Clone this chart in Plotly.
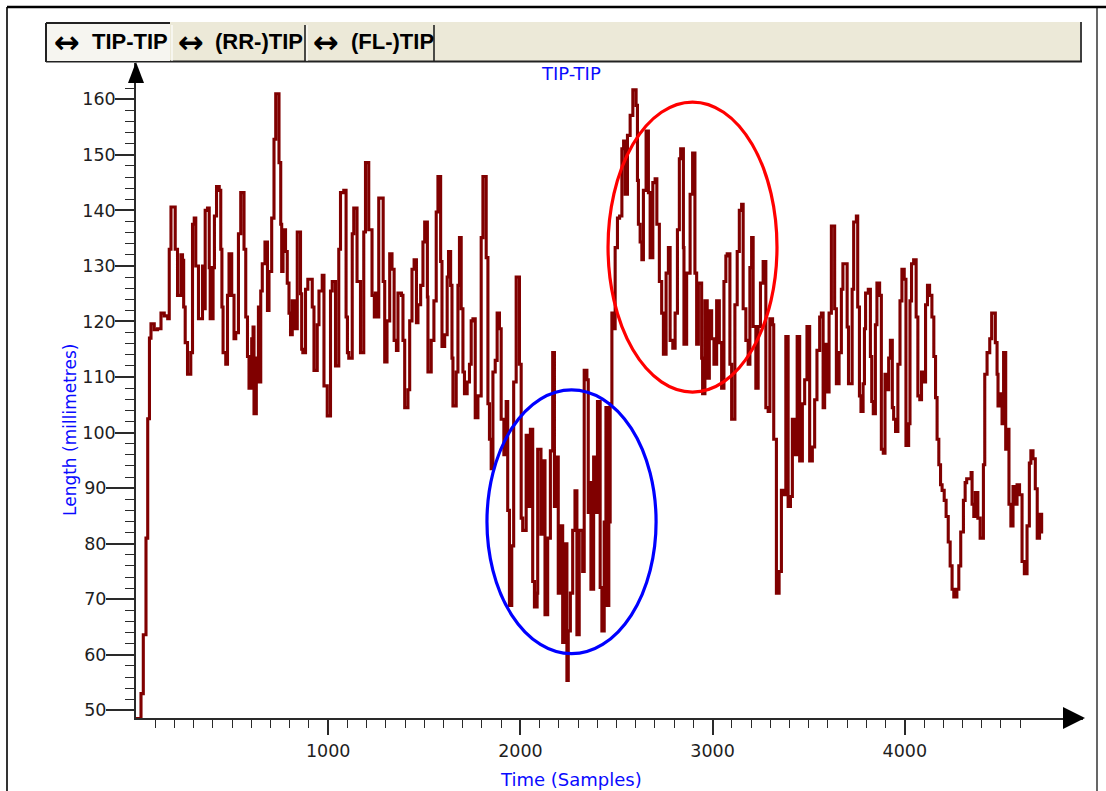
import plotly.graph_objects as go

# ---- data: TIP-TIP length trace ----
time_samples = [
    0, 26, 38, 52, 61, 70, 78, 95, 112, 130, 147, 165, 173, 182, 204, 216, 234, 242, 248, 256,
    268, 285, 294, 303, 311, 325, 346, 355, 360, 372, 381, 386, 401, 408, 419, 433, 441, 447, 453, 467,
    476, 484, 498, 510, 519, 533, 545, 562, 571, 580, 588, 602, 609, 614, 626, 637, 640, 649, 657, 671,
    684, 692, 706, 718, 727, 744, 753, 758, 765, 778, 787, 796, 804, 813, 827, 839, 856, 862, 868, 882,
    894, 917, 926, 943, 952, 969, 978, 995, 1012, 1021, 1038, 1055, 1064, 1081, 1093, 1100, 1107, 1125, 1133, 1150,
    1168, 1185, 1194, 1211, 1228, 1240,
    1245, 1255, 1263, 1286, 1294, 1306, 1320, 1332, 1343, 1355, 1363, 1381, 1389, 1398, 1415, 1424, 1436, 1447, 1459, 1467,
    1481, 1493, 1502, 1516, 1519, 1536, 1550, 1562, 1571, 1585, 1592, 1606, 1619, 1626, 1637, 1644, 1649, 1666, 1675, 1683,
    1692, 1701, 1709, 1723, 1735, 1744, 1753, 1765, 1779, 1796, 1805, 1822, 1831, 1839, 1848, 1857, 1869, 1879, 1891, 1900,
    1914, 1926, 1934, 1943, 1955, 1965, 1978, 1995, 2004, 2012, 2030, 2038, 2052, 2064, 2073, 2087, 2090, 2107, 2121, 2128,
    2142, 2156, 2168, 2177, 2187, 2197, 2208, 2220, 2228, 2242, 2249, 2260, 2272, 2284, 2294, 2306, 2324, 2332, 2346, 2353,
    2363, 2367, 2381, 2393, 2401, 2415, 2424, 2436, 2445, 2452, 2460, 2467, 2476,
    2488, 2493, 2505, 2516, 2528, 2537, 2545, 2557, 2571, 2585, 2602, 2609, 2614, 2623, 2632, 2640, 2654, 2666, 2675, 2689,
    2701, 2710, 2723, 2735, 2744, 2758, 2770, 2779, 2793, 2805, 2817, 2827, 2834, 2848, 2851, 2865, 2883, 2896, 2908, 2917,
    2926, 2943, 2948, 2960, 2972, 2983, 2995, 3007, 3021, 3035, 3047, 3059, 3069, 3076, 3090, 3099, 3116, 3128, 3139, 3151,
    3159, 3173, 3185, 3194, 3203, 3211, 3225, 3237, 3249, 3263, 3277, 3289, 3298, 3312, 3318, 3332, 3346, 3358, 3370, 3381,
    3393, 3405, 3415, 3427, 3440, 3453, 3467, 3479, 3491, 3505, 3519, 3531, 3543, 3557, 3566, 3575, 3583, 3592, 3606, 3618,
    3635, 3644, 3658, 3670, 3678,
    3700, 3707, 3726, 3734, 3748, 3755, 3764, 3772, 3783, 3790, 3796, 3810, 3821, 3828, 3836, 3847, 3855, 3869, 3878, 3888,
    3897, 3907, 3916, 3925, 3935, 3942, 3952, 3964, 3975, 3985, 3997, 4006, 4020, 4027, 4035, 4046, 4059, 4068, 4078, 4087,
    4098, 4108, 4118, 4129, 4141, 4151, 4160, 4168, 4177, 4186, 4194, 4205, 4215, 4226, 4236, 4246, 4255, 4271, 4281, 4291,
    4305, 4314, 4322, 4345, 4350, 4359, 4367, 4380, 4392, 4409, 4416, 4428, 4442, 4452, 4471, 4480, 4485, 4497, 4506, 4514,
    4525, 4533, 4542, 4552, 4563, 4575, 4584, 4597, 4610, 4622, 4636, 4648, 4656, 4667, 4679, 4689, 4701, 4712, 4720,
]

length_mm = [
    48.5, 53, 63.6, 81, 102.5, 117, 119.6, 118.5, 118.7, 121.5, 121, 120.5, 133, 140.6, 133, 124.7, 132, 131, 122.6, 116.2,
    110.5, 114.4, 137.5, 138.6, 130, 120.5, 130, 122.3, 140, 140.4, 129.7, 120.5, 129.7, 139, 144.3, 143.6, 133, 122.6, 114.4, 112.3,
    124.7, 132.2, 124.7, 116.9, 118, 135.8, 143.2, 133, 120.8, 113.7, 108, 116.9, 119, 103.4, 113.4, 122.6, 109.1, 125.5, 130.4, 134.3,
    122, 129, 138.6, 152.8, 161, 148.6, 137.5, 129, 136.5, 132.6, 126.9, 121.5, 117.6, 123.7, 118.7, 136.1, 125, 115, 114.4, 125.8,
    127.6, 122.6, 111.2, 119.4, 125.5, 128.3, 108.4, 103, 125.5, 127.2, 112, 133, 143.2, 143.6, 120.8, 114.4, 113.4, 135.8, 140.4, 127.2,
    114.4, 136.1, 148.6, 136.5, 124.7, 120.8,
    125.1, 120.8, 142.2, 127.2, 112.7, 120.1, 132.2, 129.4, 116.6, 114.8, 125.1, 124.7, 116.6, 104.5, 107.7, 120.1, 129.4, 131.1, 119.8, 123,
    126.5, 134.3, 137.9, 124.4, 110.9, 116.6, 123.7, 139.7, 146.1, 130.8, 115.5, 117.6, 128, 132.6, 126.5, 113.4, 104.8, 110.9, 126.5, 135.1,
    122.3, 110.9, 107, 109.1, 112.3, 120.1, 120.5, 102.7, 106.6, 135.1, 146.1, 131.5, 105.2, 98.8, 93.5, 110.9, 113, 121.5, 118.7, 102.4,
    96, 105.6, 86, 68.9, 79.6, 109.1, 128, 112.3, 84.6, 82.4, 99.5, 86.7, 100.6, 73.2, 68.6, 71.1, 97, 81.7, 94.9, 67.2,
    81, 96.7, 114.4, 86.7, 95.6, 71.1, 83.2, 62.2, 80, 55.4, 64.3, 71.1, 82.4, 89.5, 63.6, 82.4, 75, 111.2, 109.5, 85.6,
    91, 71.8, 95.6, 85.6, 105.6, 72.1, 64.3, 83.9, 104.5, 68.9, 83.9, 105.2, 121.5,
    118.7, 133.3, 138.6, 139, 151.1, 152.5, 142.9, 153.5, 157.1, 161.7, 158.9, 145.4, 137.5, 134.3, 131.1, 143.6, 154.3, 143.2, 131.5, 145,
    145.7, 137.5, 127.2, 121.5, 114.1, 128.7, 133.3, 116.6, 115.2, 121.5, 136.5, 149.3, 151.1, 133.3, 115.9, 128.7, 142.9, 150.3, 128.7, 115.9,
    126.9, 113.4, 107, 123.7, 109.8, 121.9, 116.9, 112.3, 123.7, 116.2, 108, 127.2, 131.8, 132.2, 112.3, 102.4, 123, 132.6, 140, 141.1,
    122.3, 116.6, 112.3, 129.7, 135.1, 119.1, 108, 119.1, 126.9, 130.8, 104.5, 103.8, 120.5, 119.4, 98.8, 71.1, 75, 89.6, 88.8, 117.3,
    86.7, 88.5, 102.4, 96, 117.3, 94.9, 105.2, 109.5, 119.1, 94.9, 97.4, 105.9, 114.8, 120.8, 121.5, 104.5, 115.9, 107.3, 121.5, 137.2,
    122.3, 108.8, 114.4, 125.8, 130.4,
    119, 108.8, 125.8, 137.9, 139, 122.6, 106.6, 103.8, 108.8, 118.7, 125.1, 125.8, 113.7, 105.6, 103.4, 119.4, 126.9, 124.7, 97, 96.3,
    110.5, 107.7, 113.4, 116.6, 104.5, 102.4, 100.2, 112.3, 123.7, 129.4, 127.6, 97.7, 101.6, 123.7, 130.4, 131.1, 120.8, 106.6, 105.9, 110.9,
    109.1, 123, 126.5, 124.7, 120.8, 113.7, 106.3, 98.8, 94.2, 90.6, 89.6, 87.8, 84.9, 80.3, 76, 71.8, 70.4, 71.8, 76, 82.1,
    87.8, 91, 91.7, 92.8, 87.1, 84.9, 89.2, 84.6, 81, 94.2, 110.5, 114.4, 116.9, 121.5, 116.2, 110.5, 104.8, 107, 101.6, 114.4,
    97, 100.6, 87.1, 83.2, 90.3, 87.1, 90.6, 88.8, 76.8, 74.6, 83.2, 94.5, 96.7, 95.3, 89.9, 81, 85.3, 82.1, 82.1,
]

# axis ticks
x_major_ticks = [1000, 2000, 3000, 4000]
x_minor_ticks = [t for t in range(100, 4700, 100) if t % 1000]
y_major_upper = [100, 110, 120, 130, 140, 150, 160]
y_major_lower = [50, 60, 70, 80, 90]
y_minor_ticks = [v for v in range(50, 163, 2) if v % 10]

# highlighted regions (sample range, length range)
blue_region = dict(x0=1826, x1=2706, y0=60.2, y1=107.7)
red_region = dict(x0=2456, x1=3335, y0=107.3, y1=159.5)

tab_labels = ["TIP-TIP", "(RR-)TIP", "(FL-)TIP"]

# ---- page geometry ----
W, H = 1106, 791
L, R, T, B = 136, 23, 63, 73
X_RANGE = [0, (W - L - R) / 0.1922]
Y_RANGE = [48.62, 166.53]


def px(x):
    return (x - L) / (W - L - R)


def py(y):
    return (H - B - y) / (H - T - B)


TRACE = "#800000"
BLUE = "#0a0aff"
AXIS = "#2a2a2a"
TICKFONT = dict(family="DejaVu Sans", size=17.5, color="#1e1e1e")

fig = go.Figure()
fig.add_trace(go.Scatter(
    x=time_samples, y=length_mm, mode="lines",
    line=dict(color=TRACE, width=3.1, shape="hv"),
    hoverinfo="skip", showlegend=False,
))

fig.update_layout(
    width=W, height=H,
    margin=dict(l=L, r=R, t=T, b=B, autoexpand=False),
    paper_bgcolor="white", plot_bgcolor="white",
    showlegend=False,
    xaxis=dict(
        range=X_RANGE, showgrid=False, zeroline=False,
        showline=True, linecolor=AXIS, linewidth=1.6,
        tickmode="array", tickvals=x_major_ticks, ticktext=[str(v) for v in x_major_ticks],
        ticks="outside", ticklen=15, tickwidth=1.6, tickcolor=AXIS,
        tickfont=TICKFONT, ticklabelstandoff=1,
        minor=dict(tickmode="array", tickvals=x_minor_ticks, ticks="outside",
                   ticklen=8, tickwidth=1.4, tickcolor=AXIS),
    ),
    yaxis=dict(
        range=Y_RANGE, showgrid=False, zeroline=False,
        showline=True, linecolor=AXIS, linewidth=1.6,
        tickmode="array", tickvals=y_major_upper, ticktext=[str(v) for v in y_major_upper],
        ticks="outside", ticklen=19, tickwidth=1.6, tickcolor=AXIS,
        tickfont=TICKFONT, ticklabelstandoff=-4,
        minor=dict(tickmode="array", tickvals=y_minor_ticks, ticks="outside",
                   ticklen=9, tickwidth=1.4, tickcolor=AXIS),
    ),
    yaxis2=dict(
        overlaying="y", side="left", anchor="x",
        range=Y_RANGE, showgrid=False, zeroline=False, showline=False,
        tickmode="array", tickvals=y_major_lower, ticktext=[str(v) for v in y_major_lower],
        ticks="outside", ticklen=29, tickwidth=1.6, tickcolor=AXIS,
        tickfont=TICKFONT, ticklabelstandoff=-4,
    ),
)

# invisible companion trace so the second y axis is drawn
fig.add_trace(go.Scatter(x=[time_samples[0]], y=[length_mm[0]], yaxis="y2",
                         mode="markers", marker=dict(opacity=0), hoverinfo="skip",
                         showlegend=False))

shapes = []
# highlight rings
shapes.append(dict(type="circle", xref="x", yref="y", line=dict(color="#0000ff", width=3.2),
                   **blue_region))
shapes.append(dict(type="circle", xref="x", yref="y", line=dict(color="#ff0000", width=3.2),
                   **red_region))

# axis arrowheads
shapes.append(dict(type="path", xref="paper", yref="paper", fillcolor="black", line=dict(width=0),
                   path=f"M {px(128)},{py(83)} L {px(136)},{py(62)} L {px(144)},{py(83)} Z"))
shapes.append(dict(type="path", xref="paper", yref="paper", fillcolor="black", line=dict(width=0),
                   path=f"M {px(1063)},{py(707)} L {px(1085)},{py(718)} L {px(1063)},{py(729)} Z"))


def line(x0, y0, x1, y1, color, width):
    return dict(type="line", xref="paper", yref="paper",
                x0=px(x0), y0=py(y0), x1=px(x1), y1=py(y1),
                line=dict(color=color, width=width))


def rect(x0, y0, x1, y1, fill):
    return dict(type="rect", xref="paper", yref="paper",
                x0=px(x0), y0=py(y0), x1=px(x1), y1=py(y1),
                fillcolor=fill, line=dict(width=0))


# window frame
shapes.append(line(7, 7, 1106, 7, "black", 2.6))
shapes.append(line(7, 7, 7, 791, "black", 1.6))
shapes.append(line(1097, 7, 1097, 791, "black", 1.2))

# tab bar
shapes.append(rect(46, 22, 1082, 62, "#ECE9D8"))
shapes.append(line(1081, 22, 1081, 62, "#404040", 2))
shapes.append(line(46, 61.5, 1082, 61.5, "#222222", 2))
shapes.append(rect(46, 23, 170, 61, "#F6F5F0"))
shapes.append(line(46, 23, 170, 23, "#222222", 2))
shapes.append(line(46, 23, 46, 62, "#222222", 2))
shapes.append(line(172, 25, 172, 61, "white", 1.2))
shapes.append(line(305, 25, 305, 61, "#222222", 1.6))
shapes.append(line(307, 25, 307, 61, "white", 1.2))
shapes.append(line(434, 25, 434, 61, "#222222", 1.6))

fig.update_layout(shapes=shapes)

annotations = []
TABFONT = dict(family="Liberation Sans, Arial", size=22, color="black")
ARROWFONT = dict(family="DejaVu Sans", size=31, color="black")
arrow_x = [52, 176, 311]
label_x = [90, 213, 349]
for ax_, lx_, lab in zip(arrow_x, label_x, tab_labels):
    annotations.append(dict(text="<b>\u2194</b>", x=px(ax_), y=py(42), xref="paper", yref="paper",
                            xanchor="left", yanchor="middle", showarrow=False, font=ARROWFONT))
    annotations.append(dict(text=f"<b>{lab}</b>", x=px(lx_), y=py(41), xref="paper", yref="paper",
                            xanchor="left", yanchor="middle", showarrow=False, font=TABFONT))

annotations.append(dict(text="TIP-TIP", x=px(570.5), y=py(74), xref="paper", yref="paper",
                        xanchor="center", yanchor="middle", showarrow=False,
                        font=dict(family="DejaVu Sans", size=18, color=BLUE)))
annotations.append(dict(text="Length (millimetres)", x=px(70), y=py(430), xref="paper", yref="paper",
                        xanchor="center", yanchor="middle", showarrow=False, textangle=-90,
                        font=dict(family="DejaVu Sans", size=17, color=BLUE)))
annotations.append(dict(text="Time (Samples)", x=px(571), y=py(779), xref="paper", yref="paper",
                        xanchor="center", yanchor="middle", showarrow=False,
                        font=dict(family="DejaVu Sans", size=18, color=BLUE)))
fig.update_layout(annotations=annotations)

fig.write_html("out.html")
